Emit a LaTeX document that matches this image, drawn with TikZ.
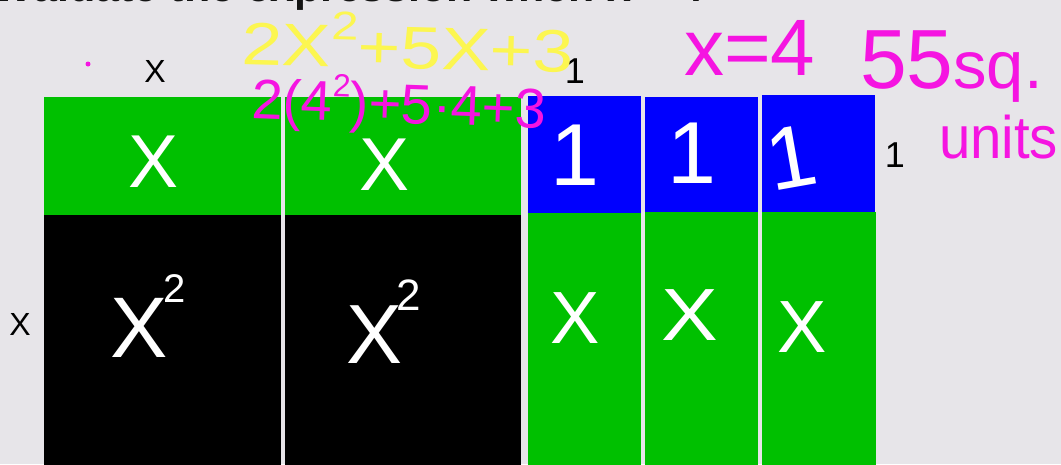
\documentclass[tikz,border=0pt]{standalone}
\usepackage{fontspec}
\setmainfont{Liberation Sans}
\usepackage{graphicx}
\definecolor{bgc}{RGB}{231,229,233}
\definecolor{tgreen}{RGB}{0,192,0}
\definecolor{tblue}{RGB}{0,0,254}
\definecolor{hyellow}{RGB}{252,246,80}
\definecolor{hmag}{RGB}{245,20,225}
\definecolor{titlec}{RGB}{20,20,20}
\newcommand{\fs}[1]{\fontsize{#1}{#1}\selectfont}
\begin{document}
\begin{tikzpicture}[x=1pt,y=-1pt,
  tile/.style={draw=none, inner sep=0pt, outer sep=0pt, anchor=north west, rectangle},
  lab/.style={inner sep=0pt, outer sep=0pt, anchor=base, text=black},
  hw/.style={inner sep=0pt, outer sep=0pt, anchor=base},
  hwl/.style={inner sep=0pt, outer sep=0pt, anchor=base west}]
\useasboundingbox (0,0) rectangle (1061,464);
\clip (0,0) rectangle (1061,464);
\fill[bgc] (0,0) rectangle (1061,464);

% cut-off title
\node[hwl, text=titlec, font=\bfseries\fs{43}] (title) at (-19,1) {Evaluate the expression when x = 4};

% left block: x-tiles and x^2 tiles
\node[tile, fill=tgreen, minimum width=237pt, minimum height=118pt] (gA) at (44.3,97.3) {};
\node[tile, fill=tgreen, minimum width=236pt, minimum height=118pt] (gB) at (284.7,97.3) {};
\node[tile, fill=black, minimum width=237pt, minimum height=255pt] (kA) at (44.3,215.3) {};
\node[tile, fill=black, minimum width=236pt, minimum height=255pt] (kB) at (284.7,215.3) {};

% right block: unit tiles and x-tiles
\node[tile, fill=tblue, minimum width=113pt, minimum height=117pt] (bA) at (528.3,95.7) {};
\node[tile, fill=tblue, minimum width=113pt, minimum height=115.8pt] (bB) at (645.3,96.5) {};
\node[tile, fill=tblue, minimum width=113pt, minimum height=116.5pt] (bC) at (762.3,95) {};
\node[tile, fill=tgreen, minimum width=113pt, minimum height=258pt] (gC) at (528.3,212.7) {};
\node[tile, fill=tgreen, minimum width=113pt, minimum height=258pt] (gD) at (645.3,212.3) {};
\node[tile, fill=tgreen, minimum width=113.5pt, minimum height=259pt] (gE) at (762.3,211.5) {};

% black side labels
\node[lab, font=\fs{32}] (lxt) at (155,82) {X};
\node[lab, font=\fs{36}] (l1t) at (575,83) {1};
\node[lab, font=\fs{36}] (l1r) at (895,167) {1};
\node[lab, font=\fs{32}] (lxl) at (20,335) {X};

% white handwriting in tiles
\node[hw, text=white, font=\fs{75}] (tx1) at (154,187) {X};
\node[hw, text=white, font=\fs{75}] (tx2) at (385,190) {X};
\node[hwl, text=white, font=\fs{86}] (sq1) at (110,357) {X\hspace{-4pt}\raisebox{55pt}{\fs{40}2}};
\node[hwl, text=white, font=\fs{84}] (sq2) at (346,363) {X\hspace{-6pt}\raisebox{53pt}{\fs{44}2}};
\node[hw, text=white, font=\fs{88}] (o1) at (575,185) {1};
\node[hw, text=white, font=\fs{88}] (o2) at (692,183) {1};
\node[hw, text=white, font=\fs{88}, rotate=10] (o3) at (797,187) {1};
\node[hw, text=white, font=\fs{74}] (bx1) at (575,343) {X};
\node[hw, text=white, font=\fs{74}] (bx2) at (690,340) {\scalebox{1.15}[1]{X}};
\node[hw, text=white, font=\fs{74}] (bx3) at (802,352) {X};

% coloured annotations
\fill[hmag] (88,64) circle (2.5);
\node[hwl, text=hyellow, font=\fs{60}, rotate=-1.5] (expr) at (241,64)
  {\scalebox{1.22}[1]{2X\raisebox{27pt}{\fs{40}2}+5X+3}};
\node[hwl, text=hmag, font=\fs{56}, rotate=-2] (eval) at (251,118)
  {2(4\raisebox{24pt}{\fs{32}2})+5·4+3};
\node[hwl, text=hmag, font=\fs{80}] (xval) at (684,75) {x=4};
\node[hwl, text=hmag] (area) at (860,88) {\fs{84}55\fs{67}sq.};
\node[hwl, text=hmag, font=\fs{60}] (units) at (939,158) {\scalebox{0.94}[1]{units}};
\end{tikzpicture}
\end{document}
